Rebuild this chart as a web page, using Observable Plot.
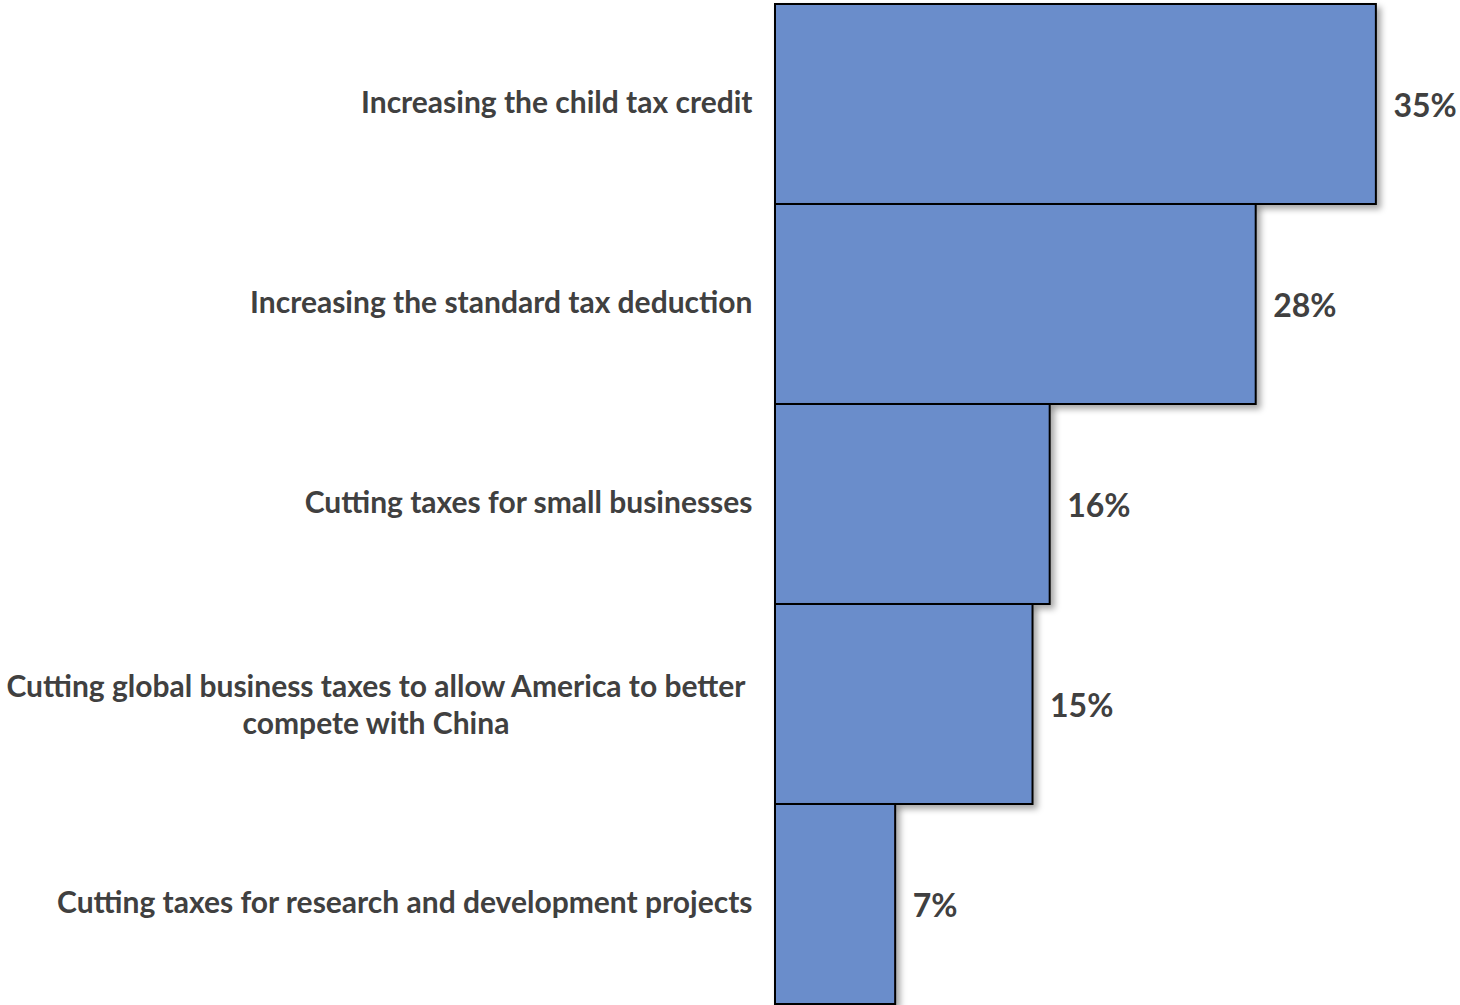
<!DOCTYPE html>
<html>
<head>
<meta charset="utf-8">
<script src="https://cdn.jsdelivr.net/npm/d3@7"></script>
<script src="https://cdn.jsdelivr.net/npm/@observablehq/plot@0.6"></script>
<style>
  html, body { margin: 0; padding: 0; background: #fff; overflow: hidden; }
  #chart svg { display: block; }
</style>
</head>
<body>
<div id="chart"></div>
<script>
const categories = [
  "Increasing the child tax credit",
  "Increasing the standard tax deduction",
  "Cutting taxes for small businesses",
  "Cutting global business taxes to allow America to better\ncompete with China",
  "Cutting taxes for research and development projects"
];
const values = [35, 28, 16, 15, 7];
const valueLabels = ["35%", "28%", "16%", "15%", "7%"];

const data = categories.map((c, i) => ({category: c, value: values[i], label: valueLabels[i]}));

const plot = Plot.plot({
  width: 1460,
  height: 1008,
  marginLeft: 775,
  marginRight: 0,
  marginTop: 2,
  marginBottom: 2,
  style: {background: "#fff", overflow: "visible"},
  x: {domain: [0, 39.9], axis: null},
  y: {domain: categories, padding: 0, axis: null},
  marks: [
    Plot.barX(data, {
      x: "value", y: "category",
      fill: "#6A8DCB", stroke: "#000", strokeWidth: 2,
      className: "bars"
    }),
    Plot.text(data, {
      x: 0, y: "category", text: "category",
      textAnchor: "end", dx: -23, dy: -4,
      fontFamily: "Lato, 'Open Sans', sans-serif", fontWeight: "bold",
      fontSize: 30, fill: "#404040", lineHeight: 1.25,
      className: "cats"
    }),
    Plot.text(data, {
      x: "value", y: "category", text: "label",
      textAnchor: "start", dx: 17, dy: 2,
      fontFamily: "Lato, 'Open Sans', sans-serif", fontWeight: "bold",
      fontSize: 32, fill: "#404040"
    })
  ]
});

document.getElementById("chart").appendChild(plot);

// drop shadow on bars
const svg = d3.select(plot);
const defs = svg.insert("defs", ":first-child");
const f = defs.append("filter").attr("id", "shadow").attr("x", "-10%").attr("y", "-10%").attr("width", "130%").attr("height", "130%");
f.append("feDropShadow").attr("dx", 4).attr("dy", 4).attr("stdDeviation", 3).attr("flood-color", "#000").attr("flood-opacity", 0.35);
svg.selectAll("g.bars rect").attr("filter", "url(#shadow)");

// center multi-line category labels as a block
svg.selectAll("g.cats text").each(function() {
  const tspans = this.querySelectorAll("tspan");
  if (tspans.length > 1) {
    let maxW = 0;
    tspans.forEach(t => { maxW = Math.max(maxW, t.getComputedTextLength()); });
    this.setAttribute("text-anchor", "middle");
    const tr = this.getAttribute("transform") || "";
    this.setAttribute("transform", tr + ` translate(${-maxW / 2 - 7},3)`);
  }
});
</script>
</body>
</html>
